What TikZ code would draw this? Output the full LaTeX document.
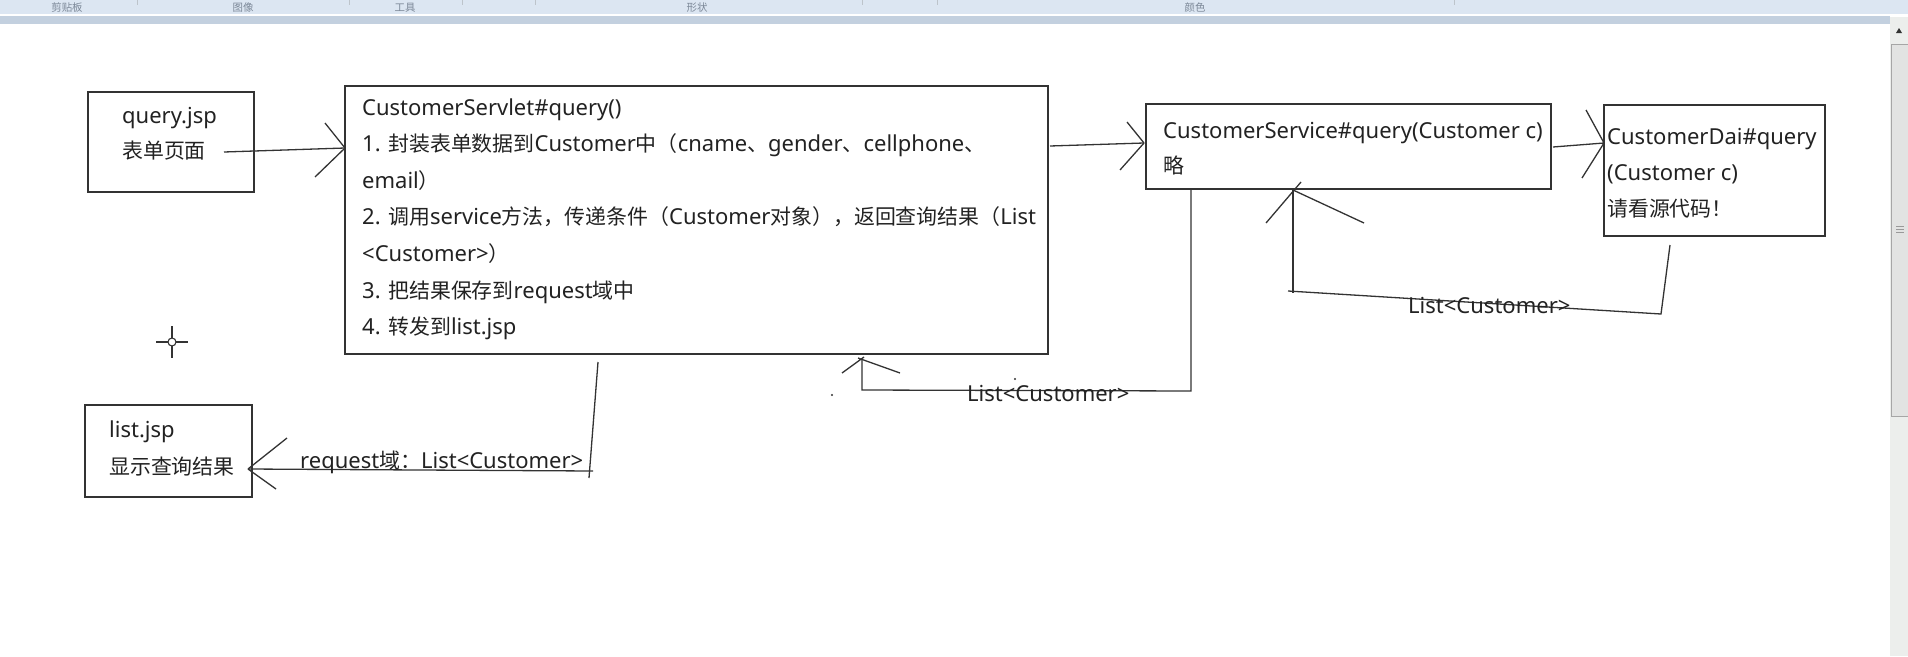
\documentclass[tikz,border=0pt]{standalone}
\usepackage{fontspec}
\setmainfont{Noto Sans}
\newfontfamily\cjk[Scale=0.95]{Noto Sans CJK SC}
\newcommand{\zh}[1]{{\cjk #1}}

\definecolor{linec}{HTML}{333333}
\definecolor{textc}{HTML}{222222}
\definecolor{barlight}{HTML}{DCE6F2}
\definecolor{bardark}{HTML}{C3D0DF}
\definecolor{bartext}{HTML}{7C8898}
\definecolor{scrolltrack}{HTML}{ECEEEC}
\definecolor{scrollthumb}{HTML}{E2E3E2}

\tikzset{
  box/.style={draw=linec, line width=1.3pt, inner sep=0pt},
  wire/.style={draw=linec, line width=1.3pt},
  txt/.style={anchor=base west, inner sep=0pt, text=textc, font=\fontsize{22}{26}\selectfont},
  bartxt/.style={anchor=base, inner sep=0pt, text=bartext, font=\fontsize{11}{12}\selectfont\cjk},
}

\begin{document}
\begin{tikzpicture}[x=1pt, y=-1pt]
\useasboundingbox (0,0) rectangle (1908,656);
\fill[white] (0,0) rectangle (1908,656);

% window frame: toolbar strip and scroll bar
\fill[barlight] (0,0) rectangle (1908,14);
\fill[bardark] (0,16) rectangle (1890,24);
\node[bartxt] (tb1) at (67,11) {剪贴板};
\node[bartxt] (tb2) at (243,11) {图像};
\node[bartxt] (tb3) at (405,11) {工具};
\node[bartxt] (tb4) at (697,11) {形状};
\node[bartxt] (tb5) at (1195,11) {颜色};
\foreach \sx in {137,349,462,535,862,937,1454}
  \draw[bartext!50, line width=0.8pt] (\sx,0) -- (\sx,5);
\fill[scrolltrack] (1890,17) rectangle (1908,656);
\fill[linec] (1896,33) -- (1902,33) -- (1899,28) -- cycle;
\filldraw[fill=scrollthumb, draw=gray!70, line width=0.8pt] (1891.5,44) rectangle (1910,416);
\foreach \gy in {226,229,232}
  \draw[gray!80, line width=0.8pt] (1896,\gy) -- (1904,\gy);

% boxes
\node[box, minimum width=166pt, minimum height=100pt] (query) at (171,142) {};
\node[box, minimum width=703pt, minimum height=268pt] (servlet) at (696.5,220) {};
\node[box, minimum width=405pt, minimum height=85pt] (service) at (1348.5,146.5) {};
\node[box, minimum width=221pt, minimum height=131pt] (dao) at (1714.5,170.5) {};
\node[box, minimum width=167pt, minimum height=92pt] (list) at (168.5,451) {};

% texts in the boxes
\node[txt] (query-1) at (122,123) {query.jsp};
\node[txt] (query-2) at (122,158) {\zh{表单页面}};

\node[txt] (servlet-1) at (362,115) {CustomerServlet\#query()};
\node[txt] (servlet-2) at (362,151.6) {1. \zh{封装表单数据到}Customer\zh{中（}cname\zh{、}gender\zh{、}cellphone\zh{、}};
\node[txt] (servlet-3) at (362,188.2) {email\zh{）}};
\node[txt] (servlet-4) at (362,224.8) {2. \zh{调用}service\zh{方法，传递条件（}Customer\zh{对象），返回查询结果（}List};
\node[txt] (servlet-5) at (362,261.4) {<Customer>\zh{）}};
\node[txt] (servlet-6) at (362,298) {3. \zh{把结果保存到}request\zh{域中}};
\node[txt] (servlet-7) at (362,334.6) {4. \zh{转发到}list.jsp};

\node[txt] (service-1) at (1163,138) {CustomerService\#query(Customer c)};
\node[txt] (service-2) at (1163,173) {\zh{略}};

\node[txt] (dao-1) at (1607,144) {CustomerDai\#query};
\node[txt] (dao-2) at (1607,180) {(Customer c)};
\node[txt] (dao-3) at (1607,216) {\zh{请看源代码！}};

\node[txt] (list-1) at (109,437) {list.jsp};
\node[txt] (list-2) at (109,474) {\zh{显示查询结果}};

% connector end points
\coordinate (q-out) at (224,152);
\coordinate (s-in) at (345,148);
\coordinate (s-out) at (1050,146);
\coordinate (sv-in) at (1144,143);
\coordinate (sv-out) at (1553,147);
\coordinate (d-in) at (1604,143);
\coordinate (d-back) at (1670,245);
\coordinate (d-corner) at (1661,314);
\coordinate (sv-corner) at (1288,291);
\coordinate (sv-back) at (1293,190);
\coordinate (sv-down) at (1191,190);
\coordinate (sv-turn) at (1191,391);
\coordinate (s-turn) at (862,390);
\coordinate (s-back) at (862,358);
\coordinate (s-down) at (598,362);
\coordinate (s-turn2) at (589,478);
\coordinate (l-line) at (593,471);
\coordinate (l-in) at (248,469);

% forward calls
\draw[wire] (q-out) -- (s-in);
\draw[wire] (s-in) -- ++(-20,-25) (s-in) -- ++(-30,29);
\draw[wire] (s-out) -- (sv-in);
\draw[wire] (sv-in) -- ++(-17,-21) (sv-in) -- ++(-24,27);
\draw[wire] (sv-out) -- (d-in);
\draw[wire] (d-in) -- ++(-18,-33) (d-in) -- ++(-22,35);

% dao returns to service
\draw[wire] (d-back) -- (d-corner) -- (sv-corner);
\draw[wire] (sv-back) -- ++(0,103);
\draw[wire] (sv-back) ++(8,-8) -- ++(-35,41) (sv-back) -- ++(71,33);
\node[txt] (ret-dao) at (1408,313) {List<Customer>};

% service returns to servlet
\draw[wire] (sv-down) -- (sv-turn) -- (s-turn) -- (s-back);
\draw[wire] (s-back) ++(-20,15) -- ++(22,-16) (s-back) ++(-4,0) -- ++(42,15);
\node[txt] (ret-service) at (967,401) {List<Customer>};
\fill[linec] (1015,379) circle (1.2);
\fill[linec] (832,395) circle (1.2);

% servlet forwards to list.jsp
\draw[wire] (s-down) -- (s-turn2);
\draw[wire] (l-line) -- (l-in);
\draw[wire] (l-in) -- ++(39,-31) (l-in) -- ++(28,20);
\node[txt] (fwd-list) at (300,468) {request\zh{域：}List<Customer>};

% cursor
\draw[linec, line width=1.1pt] (172,342) circle (4);
\draw[linec, line width=1.1pt] (156,342) -- (168,342) (176,342) -- (188,342)
  (172,326) -- (172,338) (172,346) -- (172,358);
\end{tikzpicture}
\end{document}
